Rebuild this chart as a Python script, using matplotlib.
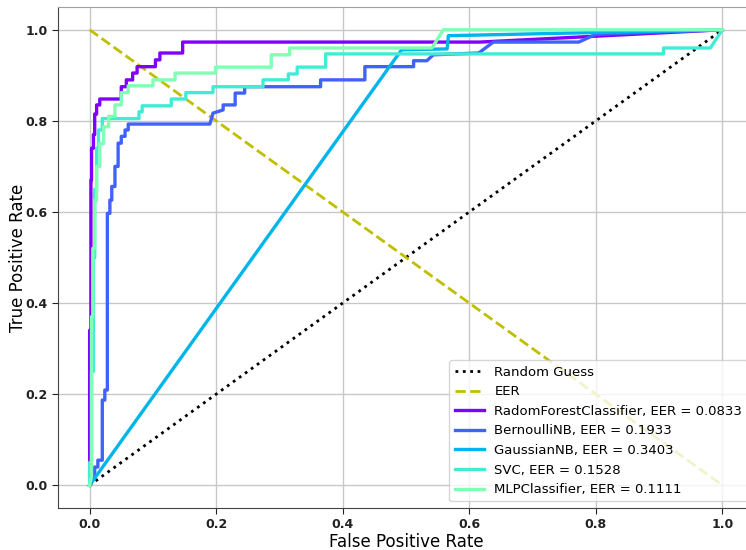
import matplotlib
matplotlib.use("Agg")
import matplotlib.pyplot as plt
import numpy as np

# ROC curves
rf_fpr = [0, 0, 0.002, 0.002, 0.003, 0.003, 0.006, 0.006, 0.008, 0.008, 0.011, 0.011, 0.016, 0.016,
          0.05, 0.05, 0.058, 0.058, 0.068, 0.068, 0.075, 0.075, 0.104, 0.104, 0.111, 0.111,
          0.147, 0.147, 0.617, 1.0]
rf_tpr = [0, 0.34, 0.34, 0.67, 0.67, 0.74, 0.74, 0.77, 0.77, 0.815, 0.815, 0.835, 0.835, 0.848,
          0.848, 0.875, 0.875, 0.89, 0.89, 0.905, 0.905, 0.919, 0.919, 0.934, 0.934, 0.949,
          0.949, 0.973, 0.973, 1.0]

bnb_fpr = [0, 0.008, 0.008, 0.013, 0.013, 0.02, 0.02, 0.024, 0.024, 0.028, 0.028, 0.032, 0.032,
           0.035, 0.035, 0.040, 0.040, 0.045, 0.045, 0.05, 0.05, 0.056, 0.056, 0.061, 0.061,
           0.19, 0.195, 0.211, 0.211, 0.23, 0.23, 0.245, 0.245, 0.365, 0.365, 0.435, 0.435,
           0.512, 0.512, 0.533, 0.543, 0.615, 0.638, 0.773, 0.80, 1.0]
bnb_tpr = [0, 0.02, 0.04, 0.04, 0.055, 0.055, 0.187, 0.187, 0.209, 0.209, 0.597, 0.597, 0.626,
           0.626, 0.656, 0.656, 0.70, 0.70, 0.751, 0.751, 0.766, 0.766, 0.78, 0.78, 0.793,
           0.793, 0.817, 0.824, 0.835, 0.835, 0.861, 0.861, 0.875, 0.875, 0.89, 0.89, 0.919,
           0.919, 0.932, 0.932, 0.945, 0.949, 0.973, 0.973, 0.99, 1.0]

gnb_fpr = [0, 0.493, 0.565, 0.567, 1.0]
gnb_tpr = [0, 0.956, 0.958, 0.987, 1.0]

svc_fpr = [0, 0, 0.003, 0.003, 0.006, 0.006, 0.008, 0.008, 0.011, 0.011, 0.014, 0.014, 0.02,
           0.02, 0.078, 0.078, 0.083, 0.083, 0.129, 0.129, 0.152, 0.152, 0.195, 0.195, 0.274,
           0.274, 0.314, 0.314, 0.328, 0.328, 0.373, 0.373, 0.907, 0.907, 0.981, 1.0]
svc_tpr = [0, 0.05, 0.05, 0.25, 0.25, 0.5, 0.5, 0.65, 0.65, 0.74, 0.74, 0.78, 0.78, 0.805,
           0.805, 0.82, 0.82, 0.833, 0.833, 0.848, 0.848, 0.862, 0.862, 0.875, 0.875, 0.89,
           0.89, 0.903, 0.903, 0.918, 0.918, 0.947, 0.947, 0.96, 0.96, 1.0]

mlp_fpr = [0, 0.003, 0.003, 0.005, 0.005, 0.008, 0.008, 0.011, 0.011, 0.016, 0.016, 0.022,
           0.022, 0.03, 0.03, 0.04, 0.04, 0.05, 0.05, 0.061, 0.061, 0.10, 0.10, 0.135, 0.135,
           0.199, 0.199, 0.287, 0.287, 0.316, 0.316, 0.541, 0.559, 1.0]
mlp_tpr = [0, 0.02, 0.37, 0.37, 0.52, 0.52, 0.626, 0.626, 0.70, 0.70, 0.75, 0.75, 0.787, 0.787,
           0.81, 0.81, 0.835, 0.835, 0.862, 0.862, 0.877, 0.877, 0.89, 0.89, 0.905, 0.905,
           0.918, 0.918, 0.945, 0.945, 0.96, 0.96, 1.0, 1.0]

names = ["RadomForestClassifier", "BernoulliNB", "GaussianNB", "SVC", "MLPClassifier"]
eers = [0.0833, 0.1933, 0.3403, 0.1528, 0.1111]
curves = [(rf_fpr, rf_tpr), (bnb_fpr, bnb_tpr), (gnb_fpr, gnb_tpr),
          (svc_fpr, svc_tpr), (mlp_fpr, mlp_tpr)]
colors = plt.cm.rainbow(np.linspace(0, 1, 9))[:5]

fig = plt.figure(figsize=(7.46, 5.5), dpi=100)
ax = fig.add_axes([58 / 746, 42 / 550, 696 / 746, 501 / 550])

ax.plot([0, 1], [0, 1], "k:", linewidth=2, label="Random Guess")
ax.plot([0, 1], [1, 0], "y--", linewidth=2, label="EER")
for (fpr, tpr), name, eer, c in zip(curves, names, eers, colors):
    ax.plot(fpr, tpr, color=c, linewidth=2.4, label=f"{name}, EER = {eer:.4f}")

ax.set_xlim(-0.05, 1.05)
ax.set_ylim(-0.05, 1.05)
ax.set_xticks([0, 0.2, 0.4, 0.6, 0.8, 1.0])
ax.set_yticks([0, 0.2, 0.4, 0.6, 0.8, 1.0])
ax.grid(True, color="#c8c8c8", linewidth=1)
ax.set_axisbelow(True)
for lbl in ax.get_xticklabels() + ax.get_yticklabels():
    lbl.set_fontweight("bold")
    lbl.set_fontsize(9)
ax.tick_params(colors="#222222", length=4)
ax.spines["left"].set_color("#444444")
ax.spines["bottom"].set_color("#444444")
ax.spines["top"].set_color("#a0a0a0")
ax.set_xlabel("False Positive Rate", fontsize=12, labelpad=1)
ax.set_ylabel("True Positive Rate", fontsize=12)
ax.yaxis.set_label_coords(-0.045, 0.5)
ax.legend(loc="lower right", fontsize=9.5, handlelength=2.2)

fig.savefig("out.png", dpi=100)
